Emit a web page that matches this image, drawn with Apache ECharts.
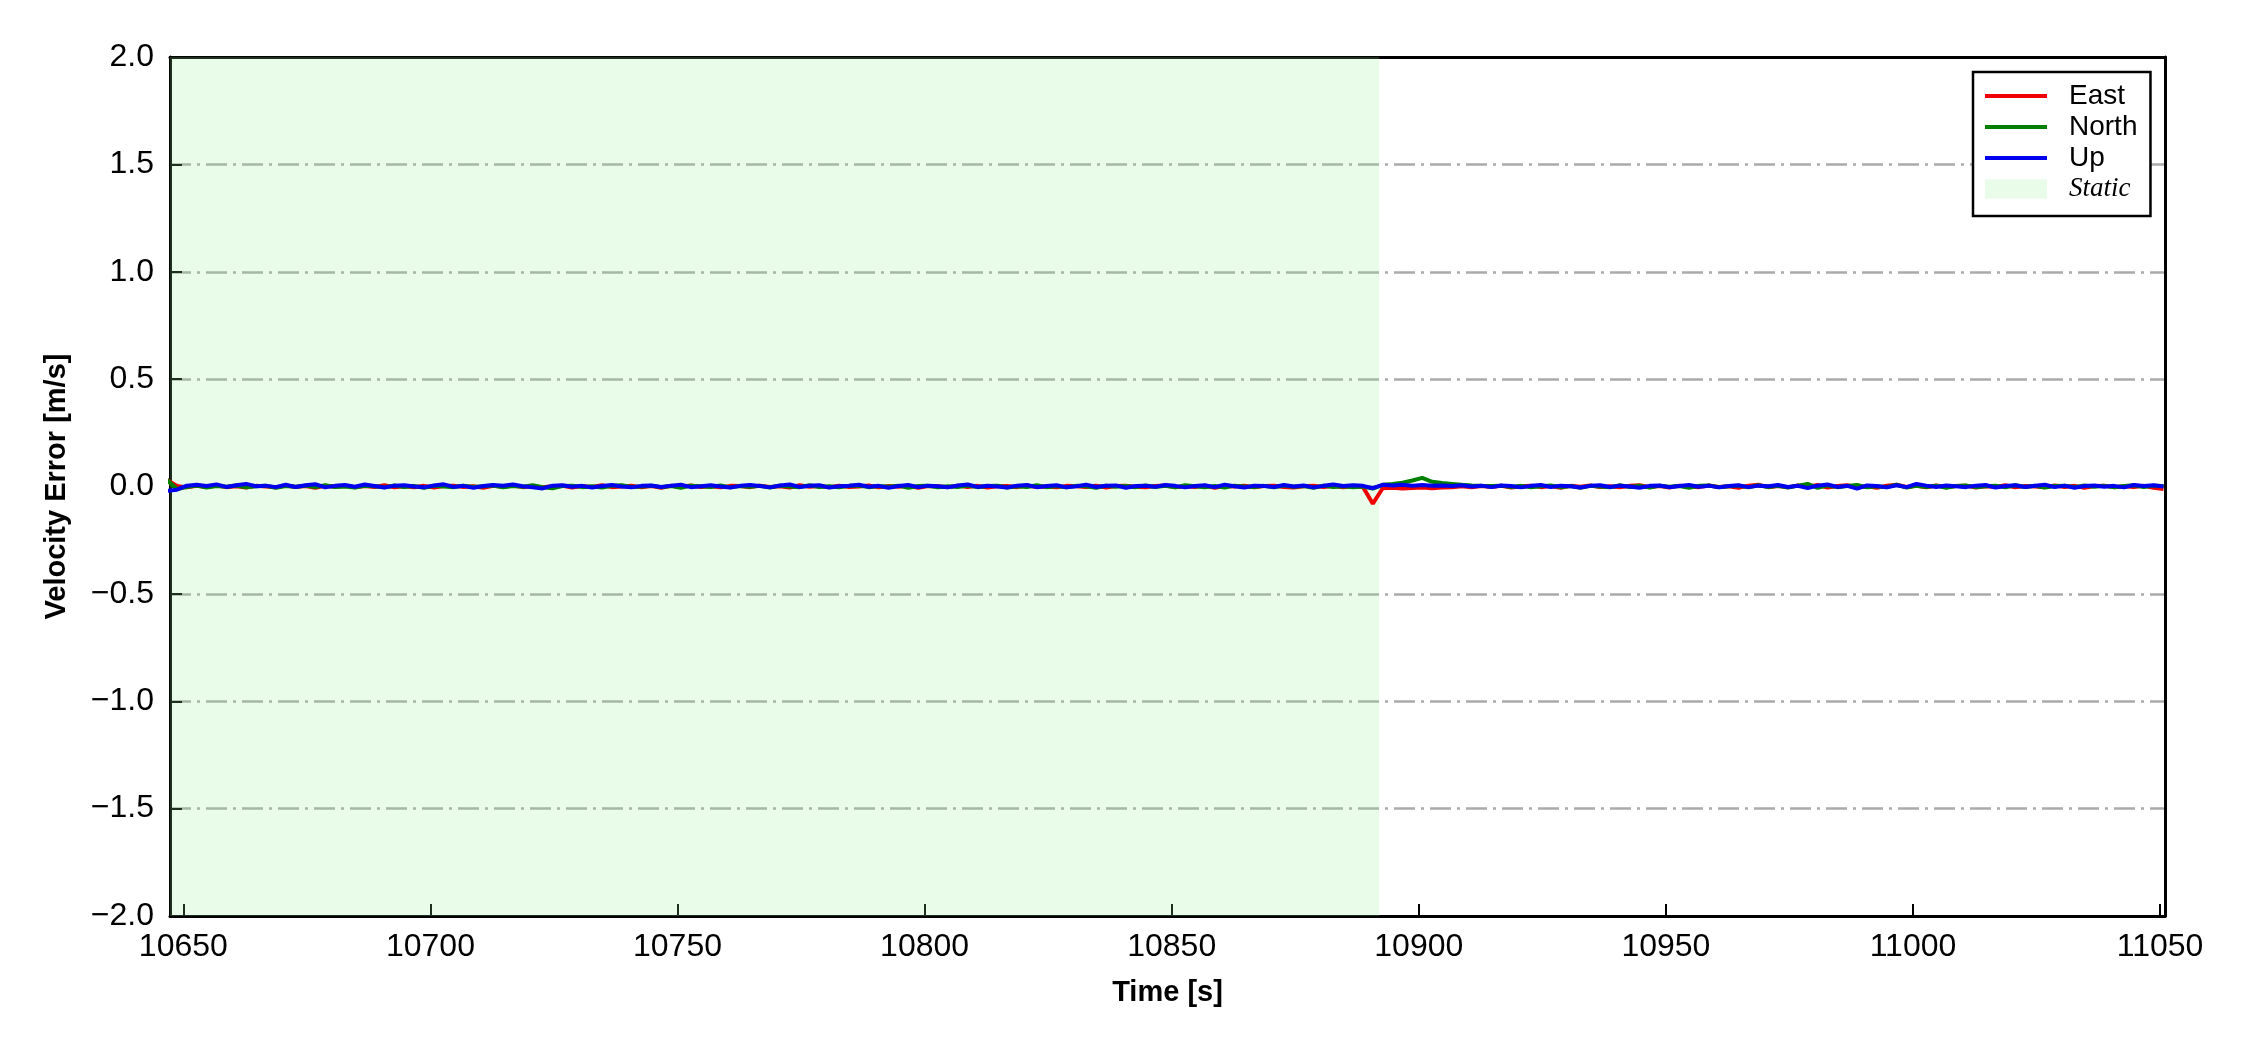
<!DOCTYPE html>
<html>
<head>
<meta charset="utf-8">
<script src="https://cdn.jsdelivr.net/npm/echarts@6/dist/echarts.min.js"></script>
<style>html,body{margin:0;padding:0;background:#fff}#c{width:2250px;height:1050px}</style>
</head>
<body>
<div id="c"></div>
<script>
// sampling grid (s)
const T0 = 10646.7;
const DT = 2;
const X_MIN = 10647.3, X_MAX = 11051;
const X_TICKS = [10650, 10700, 10750, 10800, 10850, 10900, 10950, 11000, 11050];
const Y_MIN = -2, Y_MAX = 2, Y_STEP = 0.5;
const STATIC_START = 10647.3, STATIC_END = 10892.0;
const SERIES_NAMES = ['East', 'North', 'Up'];

const EAST = [
 0.030, 0.002,-0.004, 0.003,-0.002, 0.004,-0.003, 0.001,-0.005, 0.003,
 0.000,-0.004, 0.005,-0.002, 0.002,-0.006, 0.003,-0.001, 0.004,-0.003,
 0.002,-0.002, 0.006,-0.004, 0.001,-0.003, 0.003,-0.005, 0.002, 0.004,
-0.002, 0.001,-0.006, 0.003,-0.001, 0.005,-0.003, 0.002,-0.004, 0.001,
 0.003,-0.005, 0.002,-0.002, 0.006,-0.003, 0.000, 0.004,-0.004, 0.002,
-0.006, 0.003,-0.001, 0.005,-0.002, 0.001,-0.004, 0.003, 0.002,-0.003,
 0.004,-0.002, 0.001,-0.005, 0.006,-0.001, 0.002,-0.003, 0.004,-0.002,
 0.000, 0.005,-0.004, 0.002,-0.001, 0.003,-0.006, 0.002, 0.001,-0.003,
 0.004,-0.002, 0.003,-0.005, 0.001, 0.002,-0.003, 0.005,-0.002, 0.000,
-0.004, 0.003, 0.001,-0.002, 0.004,-0.005, 0.002, 0.003,-0.001,-0.004,
 0.002, 0.005,-0.003, 0.001,-0.002, 0.004,-0.006, 0.002, 0.000, 0.003,
-0.003, 0.002, 0.004,-0.002,-0.005, 0.001, 0.003,-0.002, 0.002,-0.004,
 0.001,-0.002,-0.080,-0.008,-0.006,-0.009,-0.007,-0.005,-0.008,-0.005,
-0.003, 0.001,-0.004, 0.002,-0.002, 0.003,-0.005, 0.001, 0.004,-0.003,
 0.002,-0.006, 0.003,-0.001, 0.005,-0.002, 0.001,-0.004, 0.003, 0.006,
-0.003, 0.002,-0.005, 0.004, 0.000,-0.003, 0.005,-0.002, 0.001,-0.006,
 0.004, 0.008,-0.003, 0.002,-0.004, 0.005,-0.001, 0.007,-0.005, 0.002,
 0.006,-0.003, 0.001,-0.006, 0.004, 0.008,-0.002, 0.003,-0.004, 0.005,
-0.003, 0.002, 0.004,-0.005, 0.001,-0.002, 0.006,-0.004, 0.002, 0.000,
-0.003, 0.005,-0.002, 0.003,-0.006, 0.002, 0.004,-0.003, 0.001,-0.002,
 0.003,-0.006,-0.012
];
const NORTH = [
 0.030,-0.012,-0.003, 0.004,-0.005, 0.002,-0.001, 0.005,-0.004, 0.001,
 0.003,-0.006, 0.002,-0.001, 0.004,-0.003, 0.006,-0.002, 0.000,-0.005,
 0.003, 0.001,-0.004, 0.005,-0.002, 0.002,-0.006, 0.003, 0.000,-0.003,
 0.004,-0.002, 0.001, 0.005,-0.004, 0.002,-0.001, 0.006,-0.003,-0.008,
 0.002, 0.004,-0.003, 0.001,-0.005, 0.003, 0.006,-0.002, 0.000, 0.004,
-0.003, 0.002,-0.006, 0.004, 0.001,-0.002, 0.005,-0.004, 0.002,-0.001,
 0.003,-0.005, 0.004, 0.000,-0.003, 0.006,-0.002, 0.001,-0.004, 0.003,
 0.005,-0.003, 0.002,-0.001, 0.004,-0.006, 0.002, 0.003,-0.004, 0.001,
-0.002, 0.005,-0.003, 0.002, 0.004,-0.005, 0.001,-0.002, 0.006,-0.003,
 0.002,-0.004, 0.003, 0.001,-0.006, 0.004,-0.001, 0.002,-0.003, 0.005,
-0.002, 0.003,-0.004, 0.006, 0.001,-0.003, 0.002,-0.005, 0.004, 0.000,
-0.002, 0.003,-0.004, 0.005,-0.001, 0.002,-0.006, 0.004,-0.002, 0.001,
-0.003, 0.000,-0.010, 0.008, 0.012, 0.018, 0.028, 0.040, 0.022, 0.016,
 0.012, 0.008, 0.005, 0.003, 0.002, 0.004,-0.002, 0.003,-0.004, 0.001,
 0.005,-0.003, 0.002,-0.006, 0.003, 0.000,-0.004, 0.006,-0.002, 0.003,
-0.005, 0.004,-0.001, 0.002,-0.006, 0.003, 0.005,-0.003, 0.001, 0.004,
-0.004, 0.006,-0.002, 0.003,-0.005, 0.004, 0.012,-0.006, 0.005,-0.003,
 0.002, 0.007,-0.004, 0.001,-0.003, 0.008,-0.005, 0.003,-0.002, 0.004,
-0.006, 0.002, 0.005,-0.003, 0.001, 0.004,-0.004, 0.006,-0.002, 0.003,
-0.005, 0.002, 0.004,-0.003, 0.005,-0.001, 0.003,-0.004, 0.002, 0.006,
-0.003, 0.004, 0.002
];
const UP = [
-0.020,-0.015, 0.004, 0.008, 0.002, 0.010,-0.002, 0.006, 0.012, 0.001,
 0.004,-0.003, 0.008,-0.002, 0.006, 0.011,-0.004, 0.003, 0.007,-0.001,
 0.009, 0.002,-0.005, 0.004, 0.006, 0.000,-0.004, 0.005, 0.010,-0.002,
 0.003,-0.006, 0.002, 0.007, 0.004, 0.009, 0.001,-0.003,-0.009, 0.004,
 0.006,-0.001, 0.003,-0.005, 0.002, 0.007, 0.000,-0.004, 0.003, 0.005,
-0.002, 0.004, 0.008,-0.003, 0.001, 0.006, 0.000,-0.005, 0.003, 0.007,
 0.002,-0.004, 0.005, 0.009,-0.002, 0.003, 0.006,-0.005, 0.001, 0.004,
 0.008,-0.001, 0.003,-0.006, 0.002, 0.007,-0.003, 0.004, 0.001,-0.004,
 0.005, 0.009,-0.002, 0.003, 0.000,-0.005, 0.004, 0.007,-0.003, 0.002,
 0.006,-0.004, 0.001, 0.008,-0.002, 0.003, 0.005,-0.006, 0.002, 0.004,
-0.001, 0.007, 0.003,-0.004, 0.002, 0.006,-0.003, 0.008, 0.001,-0.005,
 0.004, 0.002,-0.002, 0.007, 0.000, 0.005,-0.004, 0.003, 0.009, 0.002,
 0.006, 0.003,-0.008, 0.008, 0.005, 0.008, 0.004, 0.007, 0.003, 0.005,
 0.002, 0.006, 0.000, 0.004,-0.003, 0.005, 0.002,-0.004, 0.003, 0.007,
-0.002, 0.004, 0.001,-0.005, 0.003, 0.006,-0.002, 0.004, 0.000,-0.006,
 0.003, 0.005,-0.003, 0.002, 0.007,-0.001, 0.004,-0.004, 0.002, 0.006,
-0.003, 0.004, 0.001, 0.007,-0.002, 0.003,-0.007, 0.004, 0.009,-0.002,
 0.003,-0.010, 0.005, 0.002,-0.004, 0.006,-0.003, 0.012, 0.004,-0.002,
 0.005, 0.001,-0.003, 0.004, 0.007,-0.005, 0.002, 0.006,-0.002, 0.003,
 0.008,-0.003, 0.004,-0.006, 0.002, 0.005,-0.001, 0.003,-0.004, 0.007,
 0.002, 0.006, 0.000
];

const COLORS = ['#ee0000', '#007f00', '#0000ee'];
const STATIC_COLOR = 'rgba(144,238,144,0.2)';

const toPairs = arr => arr.map((v, i) => [T0 + i * DT, v]);
const SANS = 'Liberation Sans, Arial, sans-serif';
const fmtY = v => (v < 0 ? '\u2212' : '') + Math.abs(v).toFixed(1);

const chart = echarts.init(document.getElementById('c'), null, {renderer: 'canvas'});

const lineSeries = [EAST, NORTH, UP].map((arr, i) => ({
  name: SERIES_NAMES[i],
  type: 'line',
  xAxisIndex: 0, yAxisIndex: 0,
  data: toPairs(arr),
  symbol: 'none',
  showSymbol: false,
  z: 3,
  lineStyle: {color: COLORS[i], width: 4},
  itemStyle: {color: COLORS[i]},
  emphasis: {disabled: true}
}));

chart.setOption({
  animation: false,
  backgroundColor: '#fff',
  grid: {left: 170, right: 85, top: 57, bottom: 134, containLabel: false},
  xAxis: [{
    type: 'value', min: X_MIN, max: X_MAX, position: 'bottom',
    name: 'Time [s]', nameLocation: 'middle', nameGap: 62,
    nameTextStyle: {fontFamily: SANS, fontSize: 29, fontWeight: 'bold', color: '#000'},
    axisLine: {show: true, onZero: false, lineStyle: {color: '#000', width: 3}},
    axisTick: {show: true, inside: true, length: 12, customValues: X_TICKS, lineStyle: {color: '#000', width: 2}},
    axisLabel: {show: true, customValues: X_TICKS, margin: 15, fontFamily: SANS, fontSize: 32, color: '#000', formatter: v => String(v)},
    splitLine: {show: false}
  }, {
    type: 'value', min: X_MIN, max: X_MAX, position: 'top',
    axisLine: {show: true, onZero: false, lineStyle: {color: '#000', width: 3}},
    axisTick: {show: false}, axisLabel: {show: false}, splitLine: {show: false}
  }],
  yAxis: [{
    type: 'value', min: Y_MIN, max: Y_MAX, interval: Y_STEP, position: 'left',
    name: 'Velocity Error [m/s]', nameLocation: 'middle', nameGap: 99, nameRotate: 90,
    nameTextStyle: {fontFamily: SANS, fontSize: 29, fontWeight: 'bold', color: '#000'},
    axisLine: {show: true, onZero: false, lineStyle: {color: '#000', width: 3}},
    axisTick: {show: true, inside: true, length: 12, lineStyle: {color: '#000', width: 2}},
    axisLabel: {show: true, margin: 16, fontFamily: SANS, fontSize: 32, color: '#000', formatter: fmtY},
    splitLine: {show: true, lineStyle: {color: '#aaaaaa', width: 2.5, type: [21, 6, 3, 6]}}
  }, {
    type: 'value', min: Y_MIN, max: Y_MAX, position: 'right',
    axisLine: {show: true, onZero: false, lineStyle: {color: '#000', width: 3}},
    axisTick: {show: false}, axisLabel: {show: false}, splitLine: {show: false}
  }],
  legend: {
    left: 1973, top: 72, orient: 'vertical',
    backgroundColor: '#fff', borderColor: '#000', borderWidth: 2.5, borderRadius: 0,
    padding: [10, 13, 13, 10],
    itemWidth: 62, itemHeight: 19, itemGap: 3,
    selectedMode: false,
    lineStyle: {width: 4},
    textStyle: {fontFamily: SANS, fontSize: 28, color: '#000', lineHeight: 28, padding: [0, 0, 0, 17]},
    data: [
      {name: 'East', itemStyle: {opacity: 0}},
      {name: 'North', itemStyle: {opacity: 0}},
      {name: 'Up', itemStyle: {opacity: 0}},
      {name: 'Static', icon: 'rect', itemStyle: {color: STATIC_COLOR},
       textStyle: {fontFamily: 'Liberation Serif, Times New Roman, serif', fontStyle: 'italic', fontSize: 27}}
    ]
  },
  series: [{
    name: 'Static', type: 'line', data: [], z: 1,
    itemStyle: {color: STATIC_COLOR},
    markArea: {
      silent: true,
      itemStyle: {color: STATIC_COLOR},
      data: [[{xAxis: STATIC_START}, {xAxis: STATIC_END}]]
    }
  }].concat(lineSeries)
});
</script>
</body>
</html>
